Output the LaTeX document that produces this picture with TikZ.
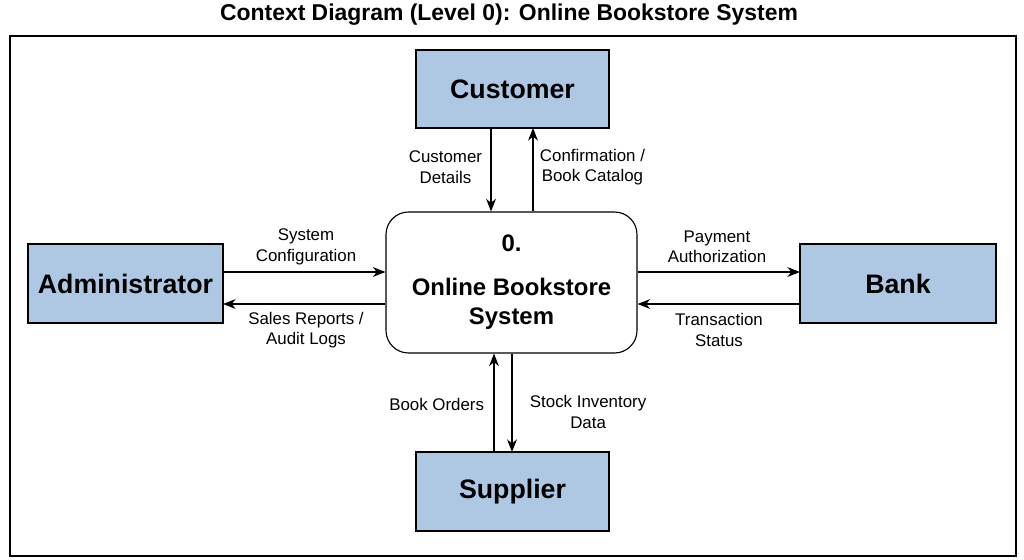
\documentclass[tikz,border=0pt]{standalone}
\usepackage{fontspec}
\setmainfont{Liberation Sans}
\usetikzlibrary{arrows.meta}
\definecolor{ent}{RGB}{174,200,228}
\begin{document}
\begin{tikzpicture}[x=0.025cm,y=-0.025cm,
 entity/.style={draw,fill=ent,line width=0.8pt,font=\bfseries\fontsize{19}{22}\selectfont},
 flow/.style={-{Stealth[length=9pt,width=7pt]},line width=0.8pt},
 lbl/.style={font=\fontsize{12}{14.5}\selectfont,align=center}]
\useasboundingbox (0,0) rectangle (1024,559);
\node[font=\bfseries\fontsize{16.3}{19}\selectfont] (title) at (509,15) {Context Diagram (Level 0): Online Bookstore System};
\draw[line width=0.8pt] (10,36) rectangle (1016,556);
\node[entity,minimum width=193*0.025cm,minimum height=78*0.025cm] (cust) at (512.5,89) {Customer};
\node[entity,minimum width=195*0.025cm,minimum height=79*0.025cm] (admin) at (125.5,283.5) {Administrator};
\node[entity,minimum width=196*0.025cm,minimum height=79*0.025cm] (bank) at (898,283.5) {Bank};
\node[entity,minimum width=193*0.025cm,minimum height=79*0.025cm] (sup) at (512.5,491.5) {Supplier};
\node[draw,rounded corners=16pt,line width=0.8pt,minimum width=251*0.025cm,minimum height=141*0.025cm,align=center,font=\bfseries\fontsize{17}{31}\selectfont] (sys) at (511.5,282.5) {0.\\Online Bookstore\\[-10pt]System};
\coordinate (c1) at (491,128); \coordinate (c2) at (533,128);
\draw[flow] (c1) -- (c1 |- sys.north);
\draw[flow] (c2 |- sys.north) -- (c2);
\node[lbl,anchor=east] (l1) at (487,167) {Customer\\Details};
\node[lbl,anchor=west] (l2) at (535,167) {Confirmation /\\Book Catalog};
\coordinate (a1) at (223,272); \coordinate (a2) at (223,304);
\draw[flow] (a1) -- (a1 -| sys.west);
\draw[flow] (a2 -| sys.west) -- (a2);
\node[lbl] (l3) at (306,247) {System\\Configuration};
\node[lbl] (l4) at (306,330) {Sales Reports /\\Audit Logs};
\coordinate (b1) at (800,272); \coordinate (b2) at (800,304);
\draw[flow] (b1 -| sys.east) -- (b1);
\draw[flow] (b2) -- (b2 -| sys.east);
\node[lbl] (l5) at (717,247) {Payment\\Authorization};
\node[lbl] (l6) at (719,330) {Transaction\\Status};
\coordinate (s1) at (494,452); \coordinate (s2) at (512,452);
\draw[flow] (s1) -- (s1 |- sys.south);
\draw[flow] (s2 |- sys.south) -- (s2);
\node[lbl,anchor=east] (l7) at (489,404) {Book Orders};
\node[lbl,anchor=west] (l8) at (525,412) {Stock Inventory\\Data};
\end{tikzpicture}
\end{document}
